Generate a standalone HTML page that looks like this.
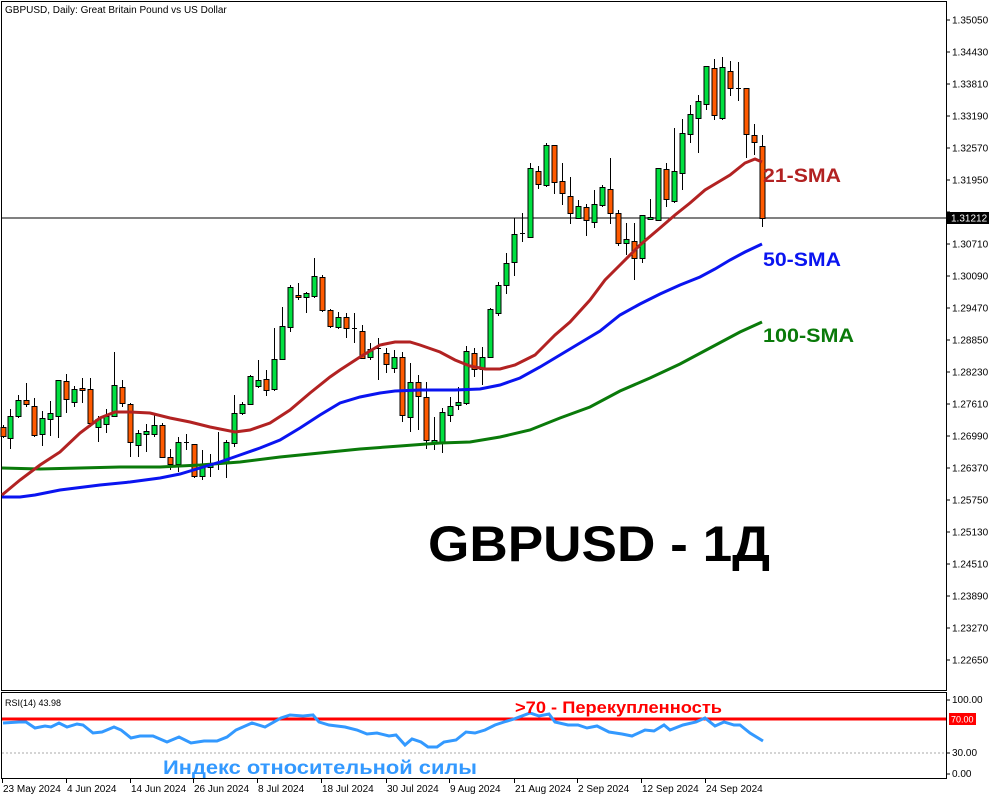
<!DOCTYPE html>
<html><head><meta charset="utf-8"><style>
html,body{margin:0;padding:0;background:#fff}
svg{display:block}
text{font-family:"Liberation Sans","DejaVu Sans",sans-serif}
</style></head><body>
<svg id="s" width="1000" height="800" xmlns="http://www.w3.org/2000/svg">
<rect width="1000" height="800" fill="#fff"/>
<rect x="1.5" y="1.5" width="945" height="689" fill="none" stroke="#000" stroke-width="1"/>
<rect x="1.5" y="692.5" width="945" height="86" fill="none" stroke="#000" stroke-width="1"/>
<text x="5" y="13" font-size="10">GBPUSD, Daily:  Great Britain Pound vs US Dollar</text>
<g id="pax" font-size="10"></g>
<line x1="1" y1="218" x2="946" y2="218" stroke="#000" stroke-width="1"/>
<rect x="947" y="212" width="42" height="12" fill="#000"/>
<text x="951" y="221.5" font-size="10" fill="#fff">1.31212</text>
<g id="candles"></g>
<polyline id="ma100" fill="none" stroke="#0a7a0a" stroke-width="3"/>
<polyline id="ma50" fill="none" stroke="#0a14f0" stroke-width="3"/>
<polyline id="ma21" fill="none" stroke="#b22222" stroke-width="3"/>
<text x="763" y="182" font-size="19" font-weight="bold" fill="#b22222" textLength="78" lengthAdjust="spacingAndGlyphs">21-SMA</text>
<text x="763" y="266" font-size="19" font-weight="bold" fill="#0a14f0" textLength="78" lengthAdjust="spacingAndGlyphs">50-SMA</text>
<text x="763" y="342" font-size="19" font-weight="bold" fill="#0a7a0a" textLength="91" lengthAdjust="spacingAndGlyphs">100-SMA</text>
<text x="428" y="561" font-size="50" font-weight="bold" fill="#000" textLength="342" lengthAdjust="spacingAndGlyphs">GBPUSD - 1Д</text>
<!-- RSI -->
<text x="5" y="706" font-size="9">RSI(14) 43.98</text>
<line x1="2" y1="753" x2="946" y2="753" stroke="#aaa" stroke-dasharray="2,2"/>
<line x1="2" y1="719" x2="946" y2="719" stroke="#ff0000" stroke-width="3"/>
<polyline id="rsi" fill="none" stroke="#3399ff" stroke-width="3"/>
<text x="515" y="713" font-size="17" font-weight="bold" fill="#ff0000" textLength="207" lengthAdjust="spacingAndGlyphs">&gt;70 - Перекупленность</text>
<text x="163" y="774" font-size="19" font-weight="bold" fill="#3399ff" textLength="314" lengthAdjust="spacingAndGlyphs">Индекс относительной силы</text>
<g font-size="10">
<line x1="946" y1="700" x2="950" y2="700" stroke="#000"/><text x="952" y="703">100.00</text>
<rect x="949" y="713" width="27" height="12" fill="#ff0000"/><text x="951" y="722.5" fill="#fff" font-size="9">70.00</text>
<line x1="946" y1="753" x2="950" y2="753" stroke="#000"/><text x="952" y="756">30.00</text>
<line x1="946" y1="774" x2="950" y2="774" stroke="#000"/><text x="952" y="777">0.00</text>
</g>
<g id="dates" font-size="10"></g>
</svg>
<script>
var NS="http://www.w3.org/2000/svg";
function el(t,a,p){var e=document.createElementNS(NS,t);for(var k in a)e.setAttribute(k,a[k]);(p||document.getElementById('s')).appendChild(e);return e;}
var pax=document.getElementById('pax');
var vals=["1.35050","1.34430","1.33810","1.33190","1.32570","1.31950","","1.30710","1.30090","1.29470","1.28850","1.28230","1.27610","1.26990","1.26370","1.25750","1.25130","1.24510","1.23890","1.23270","1.22650"];
for(var i=0;i<vals.length;i++){var y=20+i*32;el('line',{x1:946,y1:y,x2:950,y2:y,stroke:'#000'},pax);if(vals[i]){var t=el('text',{x:952,y:y+3.5},pax);t.textContent=vals[i];}}
var C=[[3,427,436,425,438],[10,438,416,409,449],[18,416,400,395,418],[26,400,404,383,407],[34,406,435,398,437],[42,434,418,411,446],[50,419,413,401,436],[58,416,380,380,438],[66,381,399,374,413],[74,402,389,386,407],[82,388,390,378,403],[90,389,423,378,427],[98,427,419,416,442],[106,424,416,409,433],[114,416,385,352,416],[122,387,403,380,407],[130,404,442,403,457],[138,445,433,430,457],[146,434,431,424,452],[154,434,425,415,437],[162,425,457,423,458],[170,457,464,449,470],[178,464,442,437,472],[186,442,442,434,450],[194,444,476,444,478],[202,476,467,450,480],[210,467,463,454,477],[218,463,463,432,470],[226,462,442,440,478],[234,443,413,395,447],[242,413,404,402,415],[250,404,376,375,404],[258,386,380,360,388],[266,379,390,370,396],[274,389,359,328,391],[282,359,326,307,360],[290,327,287,285,332],[298,295,297,283,300],[306,297,293,292,313],[314,296,276,258,298],[322,277,310,275,312],[330,310,326,309,328],[338,327,317,312,329],[346,317,328,313,338],[354,328,328,313,343],[362,331,358,325,358],[370,357,349,343,360],[378,348,348,338,380],[386,353,364,348,373],[394,368,357,350,373],[402,357,415,352,422],[410,417,382,363,432],[418,382,396,375,430],[426,397,440,382,449],[434,442,440,417,450],[442,442,412,408,453],[450,415,406,397,422],[458,405,402,387,410],[466,403,351,346,405],[474,353,369,348,377],[482,369,357,347,385],[490,357,309,308,358],[498,313,285,282,316],[506,285,263,253,294],[514,262,234,218,276],[522,233,233,213,242],[530,237,168,163,238],[538,171,184,166,189],[546,185,145,143,187],[554,145,182,145,194],[562,181,193,163,205],[570,196,213,177,224],[578,218,206,200,218],[586,207,220,204,236],[594,222,204,190,228],[602,205,187,185,207],[610,189,213,158,224],[618,213,243,210,246],[626,243,239,223,255],[634,241,258,223,280],[642,258,215,215,263],[650,219,217,199,220],[658,220,168,168,220],[666,169,199,163,207],[674,201,171,128,203],[682,173,133,119,190],[690,134,114,105,143],[698,118,101,95,153],[706,104,66,66,110],[714,68,115,59,120],[722,118,67,57,120],[730,71,88,61,96],[738,88,88,62,101],[746,88,134,88,158],[754,135,142,124,155],[762,146,218,135,227]];
var cg=document.getElementById('candles');
C.forEach(function(c){var x=c[0],o=c[1],cl=c[2],h=c[3],l=c[4];
el('line',{x1:x+.5,y1:h,x2:x+.5,y2:l,stroke:'#000','stroke-width':1},cg);
var top=Math.min(o,cl),bot=Math.max(o,cl);
if(bot-top<1){el('line',{x1:x-2,y1:top+.5,x2:x+3,y2:top+.5,stroke:'#000'},cg);}
else el('rect',{x:x-2,y:top+.5,width:5,height:bot-top,fill:(cl<o?'#00e040':'#ff5a00'),stroke:'#000','stroke-width':1},cg);});
function P(id,a){document.getElementById(id).setAttribute('points',a.map(function(p){return p[0]+','+p[1]}).join(' '));}
P('ma21',[[2,495],[20,480],[40,465],[60,452],[80,433],[100,418],[115,412],[130,412],[150,413],[170,418],[190,422],[210,427],[235,432],[250,430],[270,423],[290,410],[310,393],[330,377],[340,370],[360,357],[380,345],[395,342],[410,342],[420,345],[440,352],[455,360],[470,366],[485,369],[500,369],[515,365],[525,360],[535,355],[545,345],[555,335],[570,322],[590,300],[605,280],[620,265],[640,245],[660,228],[675,215],[690,203],[705,190],[715,184],[730,175],[745,163],[755,159],[762,162]]);
P('ma50',[[2,497],[20,497],[35,495],[60,490],[100,485],[130,482],[160,478],[180,474],[200,468],[220,462],[240,455],[260,448],[280,440],[300,428],[320,415],[340,403],[360,397],[380,393],[395,391],[420,390],[440,390],[455,390],[480,389],[500,385],[520,378],[540,367],[560,355],[580,343],[600,331],[620,315],[640,304],[660,294],[680,285],[700,277],[715,269],[730,260],[745,252],[762,244]]);
P('ma100',[[2,468],[40,469],[80,468],[120,467],[160,467],[200,465],[240,462],[280,457],[320,453],[360,449],[400,446],[440,443],[470,442],[500,437],[530,430],[560,418],[590,407],[620,391],[650,378],[680,364],[710,348],[740,332],[762,322]]);
P('rsi',[[3,723],[19,722],[26,722],[35,728],[45,726],[51,727],[59,723],[67,727],[77,724],[83,725],[93,733],[102,732],[114,727],[121,730],[131,738],[140,736],[153,736],[167,742],[179,737],[191,743],[204,741],[217,741],[227,737],[236,730],[252,723],[265,727],[281,718],[290,715],[303,716],[313,715],[319,722],[329,725],[345,727],[357,730],[367,734],[377,733],[389,736],[396,735],[405,745],[412,739],[421,742],[428,747],[437,747],[444,742],[456,740],[466,732],[475,733],[485,730],[495,725],[504,722],[514,719],[530,713],[539,716],[549,714],[555,722],[568,725],[578,725],[587,728],[597,726],[609,732],[622,734],[632,736],[645,730],[654,731],[664,725],[670,730],[683,725],[696,722],[705,718],[715,726],[724,722],[734,725],[740,725],[750,733],[763,741]]);
var D=[[2,"23 May 2024"],[66,"4 Jun 2024"],[130,"14 Jun 2024"],[193,"26 Jun 2024"],[257,"8 Jul 2024"],[321,"18 Jul 2024"],[386,"30 Jul 2024"],[449,"9 Aug 2024"],[514,"21 Aug 2024"],[577,"2 Sep 2024"],[641,"12 Sep 2024"],[705,"24 Sep 2024"]];
var dg=document.getElementById('dates');
D.forEach(function(d){el('line',{x1:d[0]+.5,y1:779,x2:d[0]+.5,y2:783,stroke:'#000'},dg);var t=el('text',{x:d[0]+1,y:792},dg);t.textContent=d[1];});
</script>
</body></html>
